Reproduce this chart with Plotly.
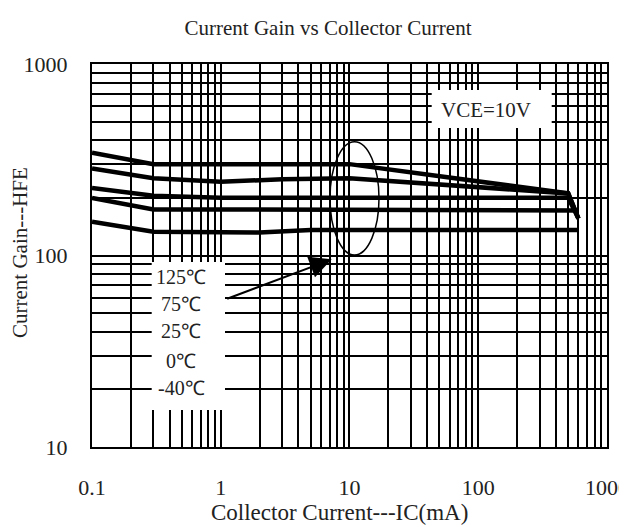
import plotly.graph_objects as go

# ---- data ----
temps = ["125℃", "75℃", "25℃", "0℃", "-40℃"]
x_125 = [0.1, 0.3, 1, 10, 500, 600]
y_125 = [344, 300, 300, 300, 211, 156]
x_75 = [0.1, 0.3, 1, 3, 10, 500, 600]
y_75 = [285, 253, 243, 250, 253, 211, 156]
x_25 = [0.1, 0.3, 1, 10, 500, 600]
y_25 = [225, 205, 200, 200, 200, 156]
x_0 = [0.1, 0.3, 1, 10, 600]
y_0 = [200, 174, 174, 173, 172]
x_m40 = [0.1, 0.3, 2, 5, 600]
y_m40 = [150, 133, 132, 136, 136]

x_ticks = [0.1, 1, 10, 100, 1000]
x_ticktext = ["0.1", "1", "10", "100", "1000"]
y_ticks = [10, 100, 1000]
y_ticktext = ["10", "100", "1000"]

FONT = "Liberation Serif"
TXT = "#222"

# page offset (default body margin) and plot area in page pixels
OFF = 8
L, R, T, B = 92, 607, 64, 447
W, H = 627 - OFF, 527 - OFF


def px(xp):
    return (xp - L) / (R - L)


def py(yp):
    return (B - yp) / (B - T)


fig = go.Figure()
series = [(x_125, y_125), (x_75, y_75), (x_25, y_25), (x_0, y_0), (x_m40, y_m40)]
for name, (xs, ys) in zip(temps, series):
    fig.add_trace(go.Scatter(x=xs, y=ys, mode="lines", name=name,
                             line=dict(color="black", width=4.5), showlegend=False))

axis_common = dict(
    type="log", automargin=False,
    showgrid=True, gridcolor="black", gridwidth=2,
    showline=True, linecolor="black", linewidth=2, mirror=True,
    ticks="", zeroline=False, ticklabeloverflow="allow",
    tickfont=dict(family=FONT, size=22, color=TXT),
    minor=dict(dtick="D1", showgrid=True, gridcolor="black", gridwidth=2, ticks=""),
)

fig.update_xaxes(**axis_common, range=[-1, 3.0001], tickvals=x_ticks, ticktext=x_ticktext,
                 ticklabelstandoff=20)
fig.update_yaxes(**axis_common, range=[1, 3], tickvals=y_ticks, ticktext=y_ticktext,
                 ticklabelstandoff=18)

shapes = [
    # white label box
    dict(type="rect", xref="paper", yref="paper", x0=px(151.7), x1=px(225), y0=py(410), y1=py(262),
         fillcolor="white", line=dict(width=0), layer="above"),
    # VCE box
    dict(type="rect", xref="paper", yref="paper", x0=px(431.7), x1=px(551.7), y0=py(128), y1=py(90),
         fillcolor="white", line=dict(width=0), layer="above"),
    # ellipse
    dict(type="circle", xref="paper", yref="paper", x0=px(330), x1=px(379), y0=py(255), y1=py(141.7),
         line=dict(color="black", width=1.5), layer="above"),
]

annotations = [
    dict(text="VCE=10V", xref="paper", yref="paper", x=px(486), y=py(110), showarrow=False,
         xanchor="center", yanchor="middle", font=dict(family=FONT, size=21, color=TXT)),
    dict(text="", xref="paper", yref="paper", x=px(331.7), y=py(259.3), ax=-106, ay=40,
         showarrow=True, arrowhead=2, arrowsize=2.2, arrowwidth=2, arrowcolor="black"),
    dict(text="Collector Current---IC(mA)", xref="paper", yref="paper", x=px(339), y=py(512),
         showarrow=False, xanchor="center", yanchor="middle",
         font=dict(family=FONT, size=23, color=TXT)),
    dict(text="Current Gain---HFE", xref="paper", yref="paper", x=px(20), y=py(253),
         showarrow=False, xanchor="center", yanchor="middle", textangle=-90,
         font=dict(family=FONT, size=21, color=TXT)),
]
label_y = [276.7, 303.5, 330.5, 361, 388]
for t, yy in zip(temps, label_y):
    annotations.append(dict(text=t, xref="paper", yref="paper", x=px(181), y=py(yy),
                            showarrow=False, xanchor="center", yanchor="middle",
                            font=dict(family=FONT, size=20, color=TXT)))

fig.update_layout(
    width=W, height=H,
    margin=dict(l=L - OFF, r=627 - R, t=T - OFF, b=527 - B),
    paper_bgcolor="white", plot_bgcolor="white",
    title=dict(text="Current Gain vs Collector Current", x=(328 - OFF) / W, xanchor="center",
               y=1 - (28 - OFF) / H, yanchor="middle", font=dict(family=FONT, size=21, color=TXT)),
    shapes=shapes, annotations=annotations,
)

fig.write_html("out.html")
